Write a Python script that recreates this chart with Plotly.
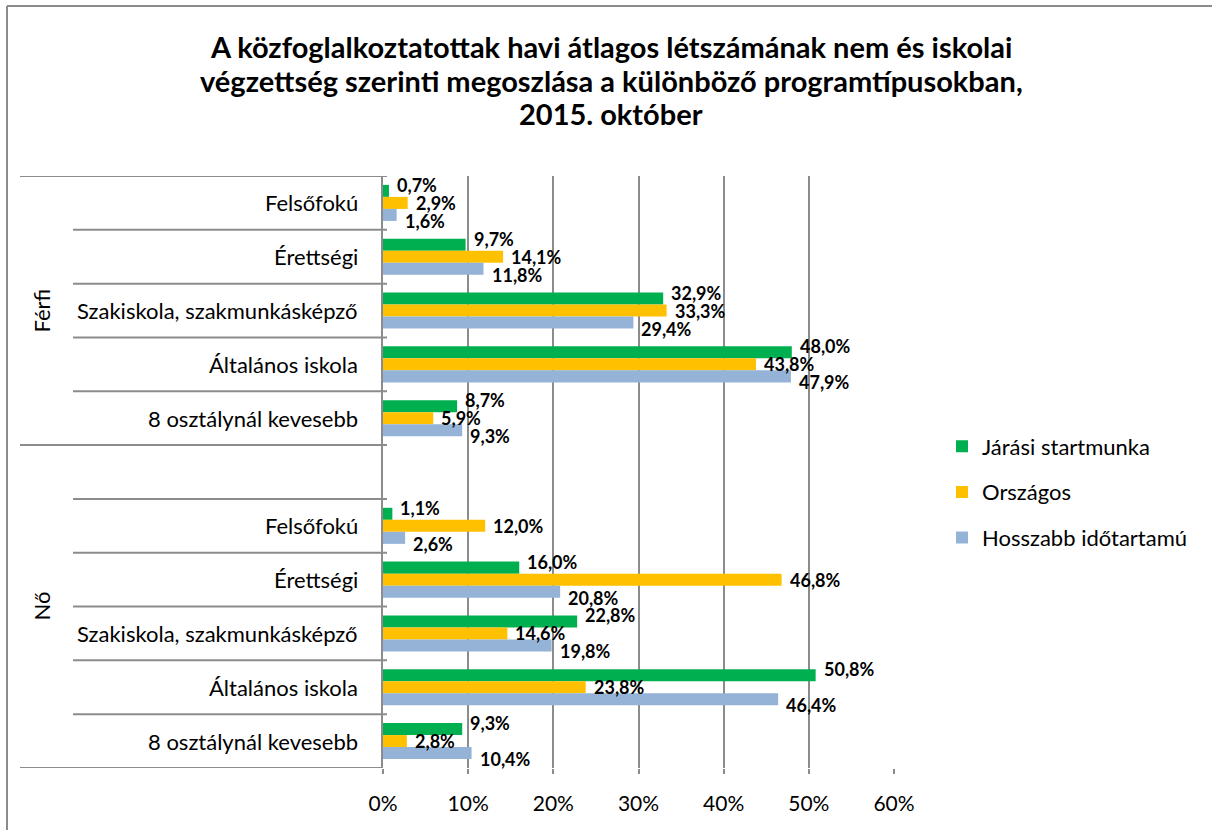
import plotly.graph_objects as go

title_lines = [
    "A közfoglalkoztatottak havi átlagos létszámának nem és iskolai",
    "végzettség szerinti megoszlása a különböző programtípusokban,",
    "2015. október",
]
groups = ["Férfi", "Nő"]
categories = ["Felsőfokú", "Érettségi", "Szakiskola, szakmunkásképző",
              "Általános iskola", "8 osztálynál kevesebb"]
series_names = ["Járási startmunka", "Országos", "Hosszabb időtartamú"]
colors = ["#00B050", "#FFC000", "#95B3D7"]

ferfi_jarasi = [0.7, 9.7, 32.9, 48.0, 8.7]
ferfi_orszagos = [2.9, 14.1, 33.3, 43.8, 5.9]
ferfi_hosszabb = [1.6, 11.8, 29.4, 47.9, 9.3]
no_jarasi = [1.1, 16.0, 22.8, 50.8, 9.3]
no_orszagos = [12.0, 46.8, 14.6, 23.8, 2.8]
no_hosszabb = [2.6, 20.8, 19.8, 46.4, 10.4]

x_ticks = [0, 10, 20, 30, 40, 50, 60]
x_tick_labels = ["0%", "10%", "20%", "30%", "40%", "50%", "60%"]

FONT = "Lato"

# positions: Férfi rows 0..4, blank row 5, Nő rows 6..10
n = len(categories)
y_ferfi = list(range(n))
y_no = list(range(n + 1, 2 * n + 1))
ypos = y_ferfi + y_no

series_values = [
    ferfi_jarasi + no_jarasi,
    ferfi_orszagos + no_orszagos,
    ferfi_hosszabb + no_hosszabb,
]

BARGAP = 0.33

def fmt(v):
    return f"{v:.1f}".replace(".", ",") + "%"

fig = go.Figure()
for name, col, vals in zip(series_names, colors, series_values):
    fig.add_trace(go.Bar(
        x=vals, y=ypos, orientation="h", name=name,
        marker=dict(color=col, line=dict(width=0)),
        cliponaxis=False, legendgroup=name, hoverinfo="x+name",
    ))

PW, PL, PB, PH = 511, 383, 768, 592

def px(xp):
    return (xp - PL) / PW

def py(yp):
    return (PB - yp) / PH

annotations = []
# title, one line per annotation
for line, yc in zip(title_lines, [46, 80, 113]):
    annotations.append(dict(
        text=line, xref="paper", yref="paper",
        x=px(611), y=py(yc), xanchor="center", yanchor="middle",
        showarrow=False,
        font=dict(family=FONT, size=29, color="#000000", weight="bold"),
    ))
# data labels, spread vertically like the reference
bar_w = (1 - BARGAP) / 3
yshifts = [6, 0, -6]
for k, vals in enumerate(series_values):
    off = (k - 1) * bar_w
    for yy, v in zip(ypos, vals):
        annotations.append(dict(
            text=fmt(v), xref="x", yref="y", x=v, y=yy + off,
            xanchor="left", yanchor="middle", xshift=6, yshift=yshifts[k],
            showarrow=False,
            font=dict(family=FONT, size=18, color="#000000", weight="bold"),
        ))
for ys in (y_ferfi, y_no):
    for yy, cat in zip(ys, categories):
        annotations.append(dict(text=cat, xref="paper", yref="y", x=0, y=yy,
                                xanchor="right", yanchor="middle", xshift=-23,
                                showarrow=False,
                                font=dict(family=FONT, size=22, color="#000000")))
gx = px(42)
annotations.append(dict(text=groups[0], xref="paper", yref="y", x=gx,
                        y=(y_ferfi[0] + y_ferfi[-1]) / 2, textangle=-90,
                        xanchor="center", yanchor="middle", showarrow=False,
                        font=dict(family=FONT, size=22, color="#000000")))
annotations.append(dict(text=groups[1], xref="paper", yref="y", x=gx,
                        y=(n + y_no[-1]) / 2, textangle=-90,
                        xanchor="center", yanchor="middle", showarrow=False,
                        font=dict(family=FONT, size=22, color="#000000")))

shapes = []
line_col = "#8C8C8C"
full_x0 = px(20)
inner_x0 = px(73)
end_x = 4 / PW
for k in range(0, 2 * n + 2):
    b = k - 0.5
    full = k in (0, n, 2 * n + 1)
    shapes.append(dict(type="line", xref="paper", yref="y",
                       x0=full_x0 if full else inner_x0,
                       x1=0 if k == 2 * n + 1 else end_x,
                       y0=b, y1=b, line=dict(color=line_col, width=2)))
# outer frame
shapes.append(dict(type="line", xref="paper", yref="paper",
                   x0=px(7), x1=px(1215), y0=py(6), y1=py(6),
                   line=dict(color=line_col, width=2)))
shapes.append(dict(type="line", xref="paper", yref="paper",
                   x0=px(7), x1=px(7), y0=py(6), y1=py(835),
                   line=dict(color=line_col, width=2)))

fig.update_layout(
    width=1212, height=830,
    margin=dict(l=PL, r=1212 - PL - PW, t=PB - PH, b=830 - PB, autoexpand=False),
    paper_bgcolor="white", plot_bgcolor="white",
    barmode="group", bargap=BARGAP, bargroupgap=0,
    showlegend=True,
    legend=dict(x=px(942), y=py(492), xanchor="left",
                yanchor="middle", tracegroupgap=14,
                font=dict(family=FONT, size=22, color="#000000"),
                bgcolor="rgba(0,0,0,0)"),
    annotations=annotations, shapes=shapes,
    font=dict(family=FONT, color="#000000"),
)
fig.update_xaxes(range=[0, 60], tickvals=x_ticks, ticktext=x_tick_labels,
                 showgrid=True, gridcolor=line_col, gridwidth=2,
                 zeroline=False, showline=False, ticks="outside", ticklen=5,
                 tickcolor=line_col, tickwidth=2, ticklabelstandoff=12,
                 tickfont=dict(family=FONT, size=21, color="#000000"))
fig.update_yaxes(range=[2 * n + 0.5, -0.5], showticklabels=False,
                 showgrid=False, zeroline=False, showline=True,
                 linecolor=line_col, linewidth=2, ticks="")

fig.write_html("out.html", config={"displayModeBar": False},
               post_script="document.body.style.margin='0';")
